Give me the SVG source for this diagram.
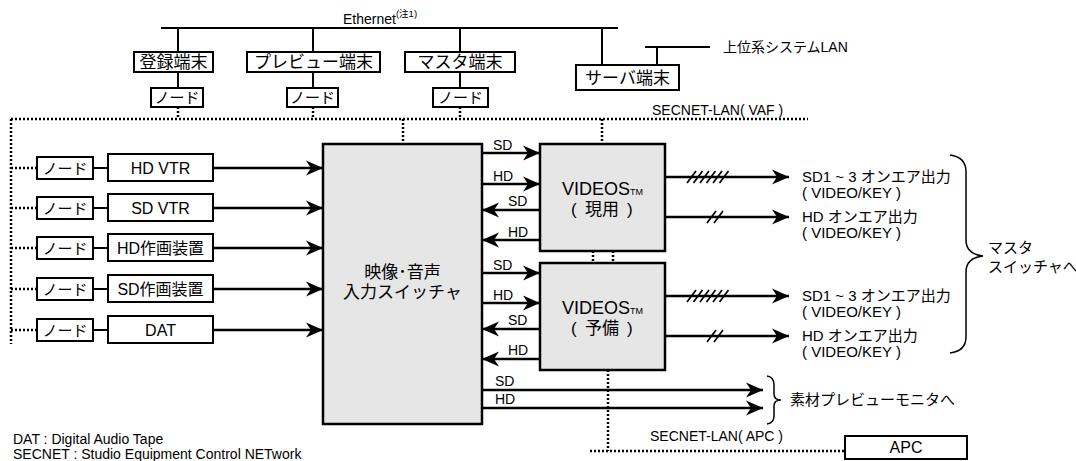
<svg xmlns="http://www.w3.org/2000/svg" width="1076" height="461" viewBox="0 0 1076 461">
<style>
text{font-family:"Liberation Sans","Noto Sans CJK JP",sans-serif;fill:#000}
.b{fill:#fff;stroke:#000;stroke-width:2}
.g{fill:#e6e6e6;stroke:#000;stroke-width:2.5}
.t17{font-size:17px;text-anchor:middle}
.t16{font-size:16px;text-anchor:middle}
.t15{font-size:15px;text-anchor:middle}
.t14{font-size:14px}
.ln{stroke:#000;stroke-width:2;fill:none}
.ar{stroke:#000;stroke-width:2.5;fill:none;marker-end:url(#ah)}
.dt{stroke:#000;stroke-width:2.5;stroke-dasharray:2 2;fill:none}
.h{stroke:#000;stroke-width:1.7}
.br{stroke:#000;stroke-width:1.5;fill:none}
</style>
<defs>
<marker id="ah" markerUnits="userSpaceOnUse" markerWidth="18" markerHeight="16" refX="17" refY="8" orient="auto">
<path d="M0,0.5 L17,8 L0,15.5 L5,8 z" fill="#000"/>
</marker>
</defs>

<g id="connectors">
<line class="ln" x1="161" y1="28" x2="618" y2="28"/>
<line class="ln" x1="178" y1="28" x2="178" y2="52"/>
<line class="ln" x1="313" y1="28" x2="313" y2="52"/>
<line class="ln" x1="460" y1="28" x2="460" y2="52"/>
<line class="ln" x1="602" y1="28" x2="602" y2="65"/>
<line class="ln" x1="178" y1="72" x2="178" y2="88"/>
<line class="ln" x1="313" y1="72" x2="313" y2="88"/>
<line class="ln" x1="460" y1="72" x2="460" y2="88"/>
<line class="ln" x1="645" y1="47" x2="710" y2="47"/>
<line class="ln" x1="657" y1="47" x2="657" y2="65"/>
<path class="dt" d="M11,119 H808"/>
<path class="dt" d="M11,119 V344"/>
<path class="dt" d="M178,107 V119 M313,107 V119 M460,107 V119"/>
<path class="dt" d="M602,119 V144 M403,119 V144"/>
<path class="dt" d="M11,168 H37 M11,208 H37 M11,248 H37 M11,289 H37 M11,330 H37"/>
<path class="dt" d="M593,251 V263 M613,251 V263"/>
<path class="dt" d="M608,370 V451 M590,451 H845"/>
<path class="ln" d="M93,168 H108 M93,208 H108 M93,248 H108 M93,289 H108 M93,330 H108"/>
<line class="ar" x1="213" y1="168" x2="323" y2="168"/>
<line class="ar" x1="213" y1="208" x2="323" y2="208"/>
<line class="ar" x1="213" y1="248" x2="323" y2="248"/>
<line class="ar" x1="213" y1="289" x2="323" y2="289"/>
<line class="ar" x1="213" y1="330" x2="323" y2="330"/>
<line class="ar" x1="482" y1="153" x2="540" y2="153"/>
<line class="ar" x1="482" y1="184" x2="540" y2="184"/>
<line class="ar" x1="540" y1="210" x2="482" y2="210"/>
<line class="ar" x1="540" y1="240" x2="482" y2="240"/>
<line class="ar" x1="482" y1="273" x2="540" y2="273"/>
<line class="ar" x1="482" y1="303" x2="540" y2="303"/>
<line class="ar" x1="540" y1="329" x2="482" y2="329"/>
<line class="ar" x1="540" y1="359" x2="482" y2="359"/>
<line class="ar" x1="665" y1="177" x2="789" y2="177"/>
<line class="ar" x1="665" y1="217" x2="789" y2="217"/>
<line class="ar" x1="665" y1="296" x2="789" y2="296"/>
<line class="ar" x1="665" y1="336" x2="789" y2="336"/>
<path class="h" d="M687,183 L696,171 M693.5,183 L702.5,171 M700,183 L709,171 M706.5,183 L715.5,171 M713,183 L722,171 M719.5,183 L728.5,171"/>
<path class="h" d="M707,223 L716,211 M714,223 L723,211"/>
<path class="h" d="M687,302 L696,290 M693.5,302 L702.5,290 M700,302 L709,290 M706.5,302 L715.5,290 M713,302 L722,290 M719.5,302 L728.5,290"/>
<path class="h" d="M707,342 L716,330 M714,342 L723,330"/>
<line class="ar" x1="482" y1="390" x2="763" y2="390"/>
<line class="ar" x1="482" y1="408" x2="763" y2="408"/>
<path class="br" d="M950,155 Q966,157 966,172 V240 Q966,254 983,256 Q966,258 966,272 V337 Q966,351 950,353"/>
<path class="br" d="M767,376 Q774,377 774,385 V394 Q774,400 781,400 Q774,400 774,406 V416 Q774,423 767,424"/>
</g>

<g id="ethernet-label">
<text x="343" y="24" font-size="14">Ethernet<tspan font-size="9.5" dy="-7">(注1)</tspan></text>
</g>
<g id="upper-lan-label"><text x="723" y="52" font-size="14">上位系システムLAN</text></g>
<g id="vaf-label"><text x="652" y="115" font-size="14">SECNET-LAN( VAF )</text></g>
<g id="apc-label"><text x="650" y="441" font-size="14">SECNET-LAN( APC )</text></g>

<g id="term-reg"><rect class="b" x="134" y="52" width="79" height="20"/><text class="t17" x="173.5" y="68">登録端末</text></g>
<g id="term-prev"><rect class="b" x="247" y="52" width="133" height="20"/><text class="t17" x="313.5" y="68">プレビュー端末</text></g>
<g id="term-master"><rect class="b" x="405" y="52" width="110" height="20"/><text class="t17" x="460" y="68">マスタ端末</text></g>
<g id="term-server"><rect class="b" x="576" y="65" width="103" height="25"/><text class="t17" x="627.5" y="83.5">サーバ端末</text></g>

<g id="node-reg"><rect class="b" x="151" y="88" width="52" height="19"/><text class="t15" x="177" y="103">ノード</text></g>
<g id="node-prev"><rect class="b" x="287" y="88" width="51" height="19"/><text class="t15" x="312.5" y="103">ノード</text></g>
<g id="node-master"><rect class="b" x="433" y="88" width="55" height="19"/><text class="t15" x="460.5" y="103">ノード</text></g>

<g id="node1"><rect class="b" x="37" y="157" width="56" height="22"/><text class="t15" x="65" y="173.5">ノード</text></g>
<g id="node2"><rect class="b" x="37" y="197" width="56" height="22"/><text class="t15" x="65" y="213.5">ノード</text></g>
<g id="node3"><rect class="b" x="37" y="237" width="56" height="22"/><text class="t15" x="65" y="253.5">ノード</text></g>
<g id="node4"><rect class="b" x="37" y="278" width="56" height="22"/><text class="t15" x="65" y="294.5">ノード</text></g>
<g id="node5"><rect class="b" x="37" y="319" width="56" height="22"/><text class="t15" x="65" y="335.5">ノード</text></g>

<g id="hdvtr"><rect class="b" x="108" y="154" width="105" height="27"/><text class="t16" x="160.5" y="174">HD VTR</text></g>
<g id="sdvtr"><rect class="b" x="108" y="194" width="105" height="27"/><text class="t16" x="160.5" y="214">SD VTR</text></g>
<g id="hdsaku"><rect class="b" x="108" y="234" width="105" height="27"/><text class="t16" x="160.5" y="254">HD作画装置</text></g>
<g id="sdsaku"><rect class="b" x="108" y="275" width="105" height="27"/><text class="t16" x="160.5" y="295">SD作画装置</text></g>
<g id="dat"><rect class="b" x="108" y="316" width="105" height="27"/><text class="t16" x="160.5" y="336">DAT</text></g>

<g id="switcher"><rect class="g" x="323" y="144" width="159" height="280"/>
<text class="t17" x="402.5" y="278">映像･音声</text><text class="t17" x="402.5" y="298">入力スイッチャ</text></g>

<g id="videos-main"><rect class="g" x="540" y="144" width="125" height="107"/>
<text x="562" y="195" font-size="18">VIDEOS<tspan font-size="9">TM</tspan></text>
<text y="215" font-size="17"><tspan x="571">(</tspan><tspan x="585">現用</tspan><tspan x="627">)</tspan></text></g>
<g id="videos-spare"><rect class="g" x="540" y="263" width="125" height="107"/>
<text x="562" y="314" font-size="18">VIDEOS<tspan font-size="9">TM</tspan></text>
<text y="334" font-size="17"><tspan x="571">(</tspan><tspan x="585">予備</tspan><tspan x="627">)</tspan></text></g>

<g id="sig-labels">
<text class="t14" x="493" y="150">SD</text>
<text class="t14" x="493" y="181">HD</text>
<text class="t14" x="508" y="206">SD</text>
<text class="t14" x="508" y="237">HD</text>
<text class="t14" x="493" y="270">SD</text>
<text class="t14" x="493" y="300">HD</text>
<text class="t14" x="508" y="325">SD</text>
<text class="t14" x="508" y="355">HD</text>
<text class="t14" x="495" y="386">SD</text>
<text class="t14" x="495" y="404">HD</text>
</g>

<g id="out-labels">
<text x="802" y="182" font-size="15">SD1 ~ 3 オンエア出力</text><text x="802" y="198" font-size="15">( VIDEO/KEY )</text>
<text x="802" y="222" font-size="15">HD オンエア出力</text><text x="802" y="238" font-size="15">( VIDEO/KEY )</text>
<text x="802" y="301" font-size="15">SD1 ~ 3 オンエア出力</text><text x="802" y="317" font-size="15">( VIDEO/KEY )</text>
<text x="802" y="341" font-size="15">HD オンエア出力</text><text x="802" y="357" font-size="15">( VIDEO/KEY )</text>
</g>
<g id="master-label"><text x="988" y="253" font-size="15">マスタ</text><text x="988" y="272" font-size="15">スイッチャへ</text></g>
<g id="preview-label"><text x="790" y="405" font-size="15">素材プレビューモニタへ</text></g>

<g id="apc"><rect class="b" x="845" y="436" width="122" height="23"/><text class="t16" x="906" y="453">APC</text></g>

<g id="notes"><text x="13" y="444" font-size="14">DAT : Digital Audio Tape</text><text x="13" y="459" font-size="14">SECNET : Studio Equipment Control NETwork</text></g>
</svg>
